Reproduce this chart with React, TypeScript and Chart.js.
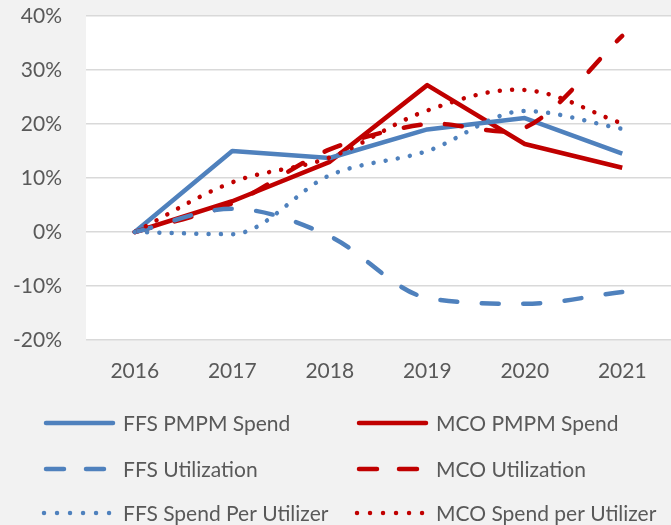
import React, { useEffect, useRef } from "react";
import { Chart, registerables } from "chart.js";

Chart.register(...registerables);

const categories = ["2016", "2017", "2018", "2019", "2020", "2021"];
const ffsPmpmSpend = [0, 15.0, 13.7, 19.0, 21.1, 14.5];
const mcoPmpmSpend = [0, 5.7, 13.0, 27.2, 16.3, 11.9];
const ffsUtilization = [0, 4.3, -0.8, -12.2, -13.3, -11.1];
const mcoUtilization = [0, 5.3, 15.3, 20.0, 19.3, 36.3];
const ffsSpendPerUtilizer = [0, -0.4, 10.5, 15.0, 22.4, 19.1];
const mcoSpendPerUtilizer = [0, 9.2, 13.8, 22.5, 26.3, 20.1];
const yMin = -20;
const yMax = 40;
const yStep = 10;

const BLUE = "#4F81BD";
const RED = "#C00000";
const TEXT = "#595959";
const FONT = "Lato";
const FONT_SIZE = 21;
const LW = 4.5;
const DASH = [17, 24.5];
const DOT = [0.01, 12.3];

type Item = { label: string; color: string; dash: number[] };
const legendItems: Item[] = [
  { label: "FFS PMPM Spend", color: BLUE, dash: [] },
  { label: "MCO PMPM Spend", color: RED, dash: [] },
  { label: "FFS Utilization", color: BLUE, dash: [18, 22] },
  { label: "MCO Utilization", color: RED, dash: [18, 22] },
  { label: "FFS Spend Per Utilizer", color: BLUE, dash: [0.01, 13] },
  { label: "MCO Spend per Utilizer", color: RED, dash: [0.01, 13] },
];

const bgPlugin = {
  id: "bg",
  beforeDraw(chart: any) {
    const { ctx, chartArea: a, width, height } = chart;
    ctx.save();
    ctx.fillStyle = "#F2F2F2";
    ctx.fillRect(0, 0, width, height);
    ctx.fillStyle = "#FFFFFF";
    ctx.fillRect(a.left, a.top, a.right - a.left, a.bottom - a.top);
    ctx.restore();
  },
};

const legendPlugin = {
  id: "customLegend",
  afterDraw(chart: any) {
    const { ctx } = chart;
    const colX = [44, 357];
    const rowY = [423, 469, 513];
    ctx.save();
    ctx.font = `${FONT_SIZE}px ${FONT}`;
    ctx.textBaseline = "middle";
    legendItems.forEach((it, i) => {
      const c = i % 2;
      const r = Math.floor(i / 2);
      const x0 = colX[c];
      const y = rowY[r];
      ctx.beginPath();
      ctx.strokeStyle = it.color;
      ctx.lineWidth = LW;
      ctx.lineCap = "round";
      ctx.setLineDash(it.dash);
      if (it.dash.length) {
        ctx.moveTo(x0 + (it.dash[0] > 1 ? 2 : 0), y);
        ctx.lineTo(x0 + 66, y);
      } else {
        ctx.moveTo(x0 + 2, y);
        ctx.lineTo(x0 + 69, y);
      }
      ctx.stroke();
      ctx.setLineDash([]);
      ctx.fillStyle = TEXT;
      ctx.fillText(it.label, x0 + 79, y + 1);
    });
    ctx.restore();
  },
};

export default function App() {
  const ref = useRef<HTMLCanvasElement | null>(null);
  useEffect(() => {
    if (!ref.current) return;
    const mk = (
      label: string,
      data: number[],
      color: string,
      dash: number[],
      tension: number,
      mode: string = "default"
    ) => ({
      label,
      data,
      borderColor: color,
      backgroundColor: color,
      borderWidth: LW,
      borderDash: dash,
      borderCapStyle: dash.length ? "round" : "butt",
      borderJoinStyle: "round",
      pointRadius: 0,
      pointHoverRadius: 0,
      tension,
      cubicInterpolationMode: mode,
      fill: false,
    });
    const chart = new Chart(ref.current, {
      type: "line",
      data: {
        labels: categories,
        datasets: [
          mk("FFS Spend Per Utilizer", ffsSpendPerUtilizer, BLUE, DOT, 0.4, "monotone"),
          mk("MCO Spend per Utilizer", mcoSpendPerUtilizer, RED, DOT, 0.35),
          mk("FFS Utilization", ffsUtilization, BLUE, DASH, 0.4, "monotone"),
          mk("MCO Utilization", mcoUtilization, RED, DASH, 0.3),
          mk("FFS PMPM Spend", ffsPmpmSpend, BLUE, [], 0),
          mk("MCO PMPM Spend", mcoPmpmSpend, RED, [], 0),
        ] as any,
      },
      options: {
        animation: false,
        responsive: false,
        maintainAspectRatio: false,
        layout: { padding: { top: 16, left: 0, right: 0, bottom: 135 } },
        plugins: {
          legend: { display: false },
          tooltip: { enabled: false },
        },
        scales: {
          x: {
            offset: true,
            grid: { display: false, drawTicks: false },
            border: { display: false },
            ticks: {
              color: TEXT,
              font: { family: FONT, size: FONT_SIZE },
              padding: 19,
            },
            afterFit(scale: any) {
              scale.height = 50;
            },
          },
          y: {
            min: yMin,
            max: yMax,
            grid: { color: "#D9D9D9", lineWidth: 1.5, drawTicks: false },
            border: { display: false },
            ticks: {
              stepSize: yStep,
              color: TEXT,
              font: { family: FONT, size: FONT_SIZE },
              padding: 24,
              callback: (v: any) => `${v}%`,
            },
            afterFit(scale: any) {
              scale.width = 86;
              scale.paddingTop = 0;
              scale.paddingBottom = 0;
            },
          },
        },
      },
      plugins: [bgPlugin, legendPlugin],
    } as any);
    return () => chart.destroy();
  }, []);
  return (
    <canvas
      ref={ref}
      width={671}
      height={525}
      style={{ position: "absolute", left: 0, top: 0, width: 671, height: 525 }}
    />
  );
}
